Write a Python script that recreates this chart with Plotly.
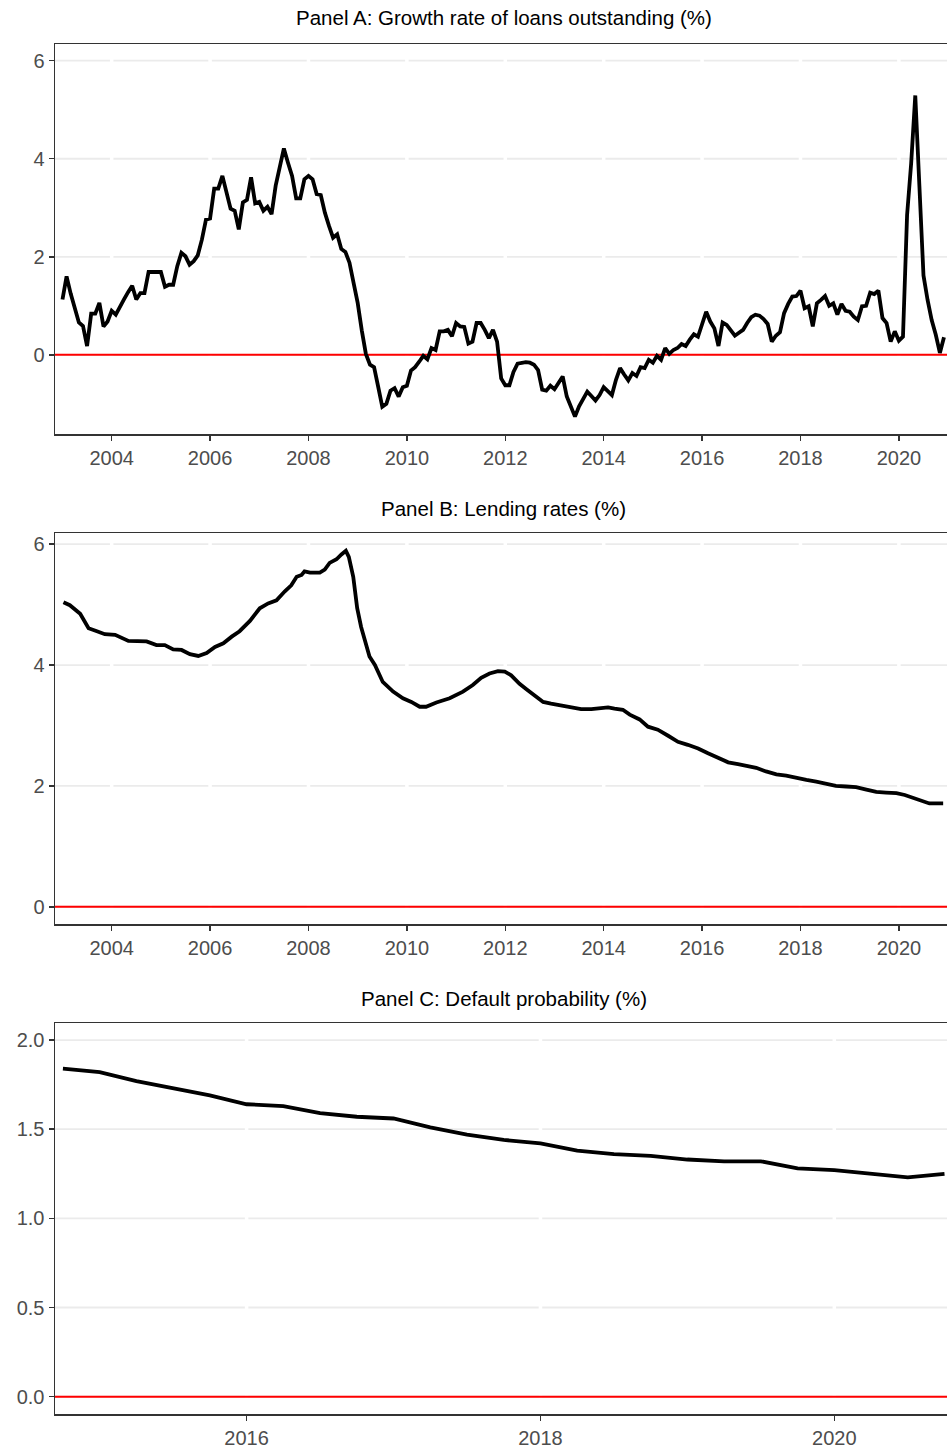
import numpy as np
import plotly.graph_objects as go
from plotly.subplots import make_subplots

# ---------------- Panel A: growth rate of loans outstanding (%), monthly 2003-01 .. 2020-12
loan_growth = [
    1.13, 1.60, 1.25, 0.95, 0.66, 0.59, 0.18, 0.84, 0.84, 1.06, 0.58, 0.68,
    0.90, 0.82, 0.96, 1.13, 1.28, 1.41, 1.13, 1.26, 1.26, 1.69, 1.69, 1.69,
    1.69, 1.39, 1.43, 1.43, 1.81, 2.08, 2.01, 1.84, 1.91, 2.03, 2.35, 2.76,
    2.78, 3.39, 3.39, 3.65, 3.31, 2.98, 2.94, 2.56, 3.11, 3.16, 3.62, 3.09,
    3.12, 2.94, 3.02, 2.87, 3.45, 3.85, 4.21, 3.92, 3.65, 3.19, 3.19, 3.58,
    3.65, 3.58, 3.28, 3.26, 2.90, 2.63, 2.39, 2.46, 2.16, 2.10, 1.88, 1.47,
    1.06, 0.50, 0.02, -0.20, -0.25, -0.65, -1.06, -1.00, -0.73, -0.68, -0.85, -0.66,
    -0.63, -0.32, -0.25, -0.14, -0.02, -0.09, 0.14, 0.10, 0.48, 0.48, 0.51, 0.38,
    0.65, 0.58, 0.57, 0.23, 0.27, 0.65, 0.65, 0.51, 0.34, 0.51, 0.27, -0.48,
    -0.62, -0.62, -0.35, -0.18, -0.16, -0.15, -0.16, -0.20, -0.31, -0.71, -0.73, -0.63,
    -0.70, -0.58, -0.44, -0.85, -1.05, -1.26, -1.05, -0.90, -0.75, -0.84, -0.93, -0.82,
    -0.66, -0.74, -0.82, -0.51, -0.27, -0.40, -0.52, -0.37, -0.43, -0.25, -0.27, -0.10,
    -0.16, -0.02, -0.10, 0.14, 0.02, 0.10, 0.14, 0.22, 0.18, 0.31, 0.42, 0.37,
    0.60, 0.88, 0.68, 0.54, 0.18, 0.66, 0.61, 0.50, 0.39, 0.45, 0.51, 0.65,
    0.77, 0.82, 0.80, 0.73, 0.63, 0.27, 0.39, 0.46, 0.85, 1.04, 1.19, 1.20,
    1.31, 0.95, 0.99, 0.58, 1.05, 1.12, 1.20, 1.00, 1.05, 0.82, 1.04, 0.90,
    0.88, 0.78, 0.71, 0.99, 1.00, 1.27, 1.24, 1.31, 0.75, 0.65, 0.27, 0.48,
    0.29, 0.37, 2.85, 3.91, 5.29, 3.45, 1.62, 1.12, 0.71, 0.41, 0.04, 0.36,
]
loan_months = 2003 + np.arange(len(loan_growth)) / 12.0

# ---------------- Panel B: lending rates (%) (decimal years)
rate_years = [
    2003.02, 2003.15, 2003.36, 2003.53, 2003.70, 2003.86, 2004.07, 2004.34, 2004.71, 2004.91,
    2005.08, 2005.25, 2005.42, 2005.59, 2005.76, 2005.93, 2006.10, 2006.27, 2006.44, 2006.60,
    2006.81, 2007.01, 2007.18, 2007.35, 2007.52, 2007.65, 2007.76, 2007.86, 2007.92, 2008.03,
    2008.23, 2008.33, 2008.43, 2008.57, 2008.67, 2008.76, 2008.82, 2008.91, 2008.99, 2009.07,
    2009.24, 2009.35, 2009.51, 2009.72, 2009.92, 2010.09, 2010.26, 2010.39, 2010.60, 2010.87,
    2011.14, 2011.34, 2011.51, 2011.68, 2011.85, 2011.99, 2012.12, 2012.29, 2012.43, 2012.60,
    2012.77, 2012.93, 2013.14, 2013.34, 2013.54, 2013.75, 2013.95, 2014.09, 2014.22, 2014.39,
    2014.53, 2014.73, 2014.90, 2015.10, 2015.31, 2015.51, 2015.71, 2015.92, 2016.12, 2016.32,
    2016.53, 2016.73, 2016.93, 2017.10, 2017.30, 2017.51, 2017.71, 2017.91, 2018.12, 2018.32,
    2018.52, 2018.72, 2018.93, 2019.13, 2019.34, 2019.54, 2019.74, 2019.95, 2020.12, 2020.29,
    2020.49, 2020.62, 2020.76, 2020.90,
]
lending_rate = [
    5.04, 4.99, 4.85, 4.61, 4.56, 4.51, 4.50, 4.40, 4.39, 4.33,
    4.33, 4.26, 4.25, 4.18, 4.15, 4.20, 4.30, 4.36, 4.47, 4.56,
    4.73, 4.94, 5.02, 5.07, 5.22, 5.32, 5.46, 5.49, 5.55, 5.53,
    5.53, 5.58, 5.69, 5.75, 5.83, 5.89, 5.79, 5.46, 4.94, 4.63,
    4.14, 4.00, 3.72, 3.56, 3.45, 3.39, 3.31, 3.31, 3.38, 3.45,
    3.56, 3.67, 3.79, 3.86, 3.90, 3.89, 3.83, 3.69, 3.60, 3.49,
    3.39, 3.36, 3.33, 3.29, 3.27, 3.27, 3.28, 3.30, 3.28, 3.26,
    3.18, 3.10, 2.98, 2.93, 2.83, 2.73, 2.68, 2.62, 2.54, 2.46,
    2.39, 2.36, 2.32, 2.30, 2.24, 2.19, 2.17, 2.13, 2.10, 2.07,
    2.03, 2.00, 1.99, 1.98, 1.94, 1.90, 1.89, 1.88, 1.85, 1.80,
    1.74, 1.71, 1.71, 1.71,
]

# ---------------- Panel C: default probability (%), quarterly 2014Q4 .. 2020Q4
pd_quarters = 2014.75 + np.arange(25) * 0.25
default_prob = [
    1.84, 1.82, 1.77, 1.73, 1.69, 1.64, 1.63, 1.59, 1.57, 1.56,
    1.51, 1.47, 1.44, 1.42, 1.38, 1.36, 1.35, 1.33, 1.32, 1.32,
    1.28, 1.27, 1.25, 1.23, 1.25,
]

titles = [
    "Panel A: Growth rate of loans outstanding (%)",
    "Panel B: Lending rates (%)",
    "Panel C: Default probability (%)",
]
ab_ticks = [2004, 2006, 2008, 2010, 2012, 2014, 2016, 2018, 2020]
c_ticks = [2016, 2018, 2020]

W, H = 947, 1451
FONT = "Arial, Liberation Sans, sans-serif"
AX = "#333333"
GRID = "#EBEBEB"
TICKC = "#4D4D4D"

fig = make_subplots(rows=3, cols=1)

line_style = dict(color="black", width=3.8)
fig.add_trace(go.Scatter(x=loan_months, y=loan_growth, mode="lines", line=line_style,
                         showlegend=False, hoverinfo="skip"), row=1, col=1)
fig.add_trace(go.Scatter(x=rate_years, y=lending_rate, mode="lines", line=line_style,
                         showlegend=False, hoverinfo="skip"), row=2, col=1)
fig.add_trace(go.Scatter(x=pd_quarters, y=default_prob, mode="lines", line=line_style,
                         showlegend=False, hoverinfo="skip"), row=3, col=1)

x0 = 55 / W
panels = [
    ((44, 434.3), [2002.848, 2020.978], [-1.62, 6.34], ab_ticks, [0, 2, 4, 6], ["0", "2", "4", "6"], 17),
    ((533.3, 924.3), [2002.848, 2020.978], [-0.29, 6.18], ab_ticks, [0, 2, 4, 6], ["0", "2", "4", "6"], 508),
    ((1023.3, 1414.3), [2014.696, 2020.767], [-0.099, 2.094], c_ticks,
     [0, 0.5, 1.0, 1.5, 2.0], ["0.0", "0.5", "1.0", "1.5", "2.0"], 998),
]

for i, (dom, xr, yr, xt, yt, ytt, ty) in enumerate(panels, start=1):
    xa = "xaxis" if i == 1 else f"xaxis{i}"
    ya = "yaxis" if i == 1 else f"yaxis{i}"
    fig.layout[xa].update(
        domain=[x0, 1.0], range=xr, tickvals=xt, ticktext=[str(t) for t in xt],
        showgrid=False, zeroline=False, showline=True, linecolor=AX, linewidth=1.5,
        mirror=True, ticks="outside", ticklen=5, tickwidth=1.5, tickcolor=AX,
        tickfont=dict(family=FONT, size=20, color=TICKC), fixedrange=True,
    )
    fig.layout[ya].update(
        domain=[1 - dom[1] / H, 1 - dom[0] / H], range=yr, tickvals=yt, ticktext=ytt,
        showgrid=False, zeroline=False,
        showline=True, linecolor=AX, linewidth=1.5, mirror=False,
        ticks="outside", ticklen=5, tickwidth=1.5, tickcolor=AX,
        tickfont=dict(family=FONT, size=20, color=TICKC), fixedrange=True,
    )
    xref = "x" if i == 1 else f"x{i}"
    yref = "y" if i == 1 else f"y{i}"
    # horizontal major grid
    for t in yt:
        fig.add_shape(type="line", x0=0, x1=1, y0=t, y1=t, xref=f"{xref} domain", yref=yref,
                      line=dict(color=GRID, width=1.8), layer="below")
    # white breaks in the horizontal grid at the x tick positions
    for t in xt:
        fig.add_shape(type="line", x0=t, x1=t, y0=0, y1=1, xref=xref, yref=f"{yref} domain",
                      line=dict(color="white", width=3.5), layer="below")
    # red zero reference line
    fig.add_shape(type="line", x0=0, x1=1, y0=0, y1=0, xref=f"{xref} domain", yref=yref,
                  line=dict(color="#FF0000", width=2), layer="below")
    fig.add_annotation(text=titles[i - 1], x=503.5 / W, y=1 - ty / H, xref="paper", yref="paper",
                       showarrow=False, xanchor="center", yanchor="middle",
                       font=dict(family=FONT, size=20.5, color="black"))

fig.update_layout(
    width=W, height=H, margin=dict(l=0, r=0, t=0, b=0),
    paper_bgcolor="white", plot_bgcolor="white", showlegend=False, hovermode=False,
)

fig.write_html("out.html", config={"displayModeBar": False, "staticPlot": True},
               post_script="document.body.style.margin='0px';")
